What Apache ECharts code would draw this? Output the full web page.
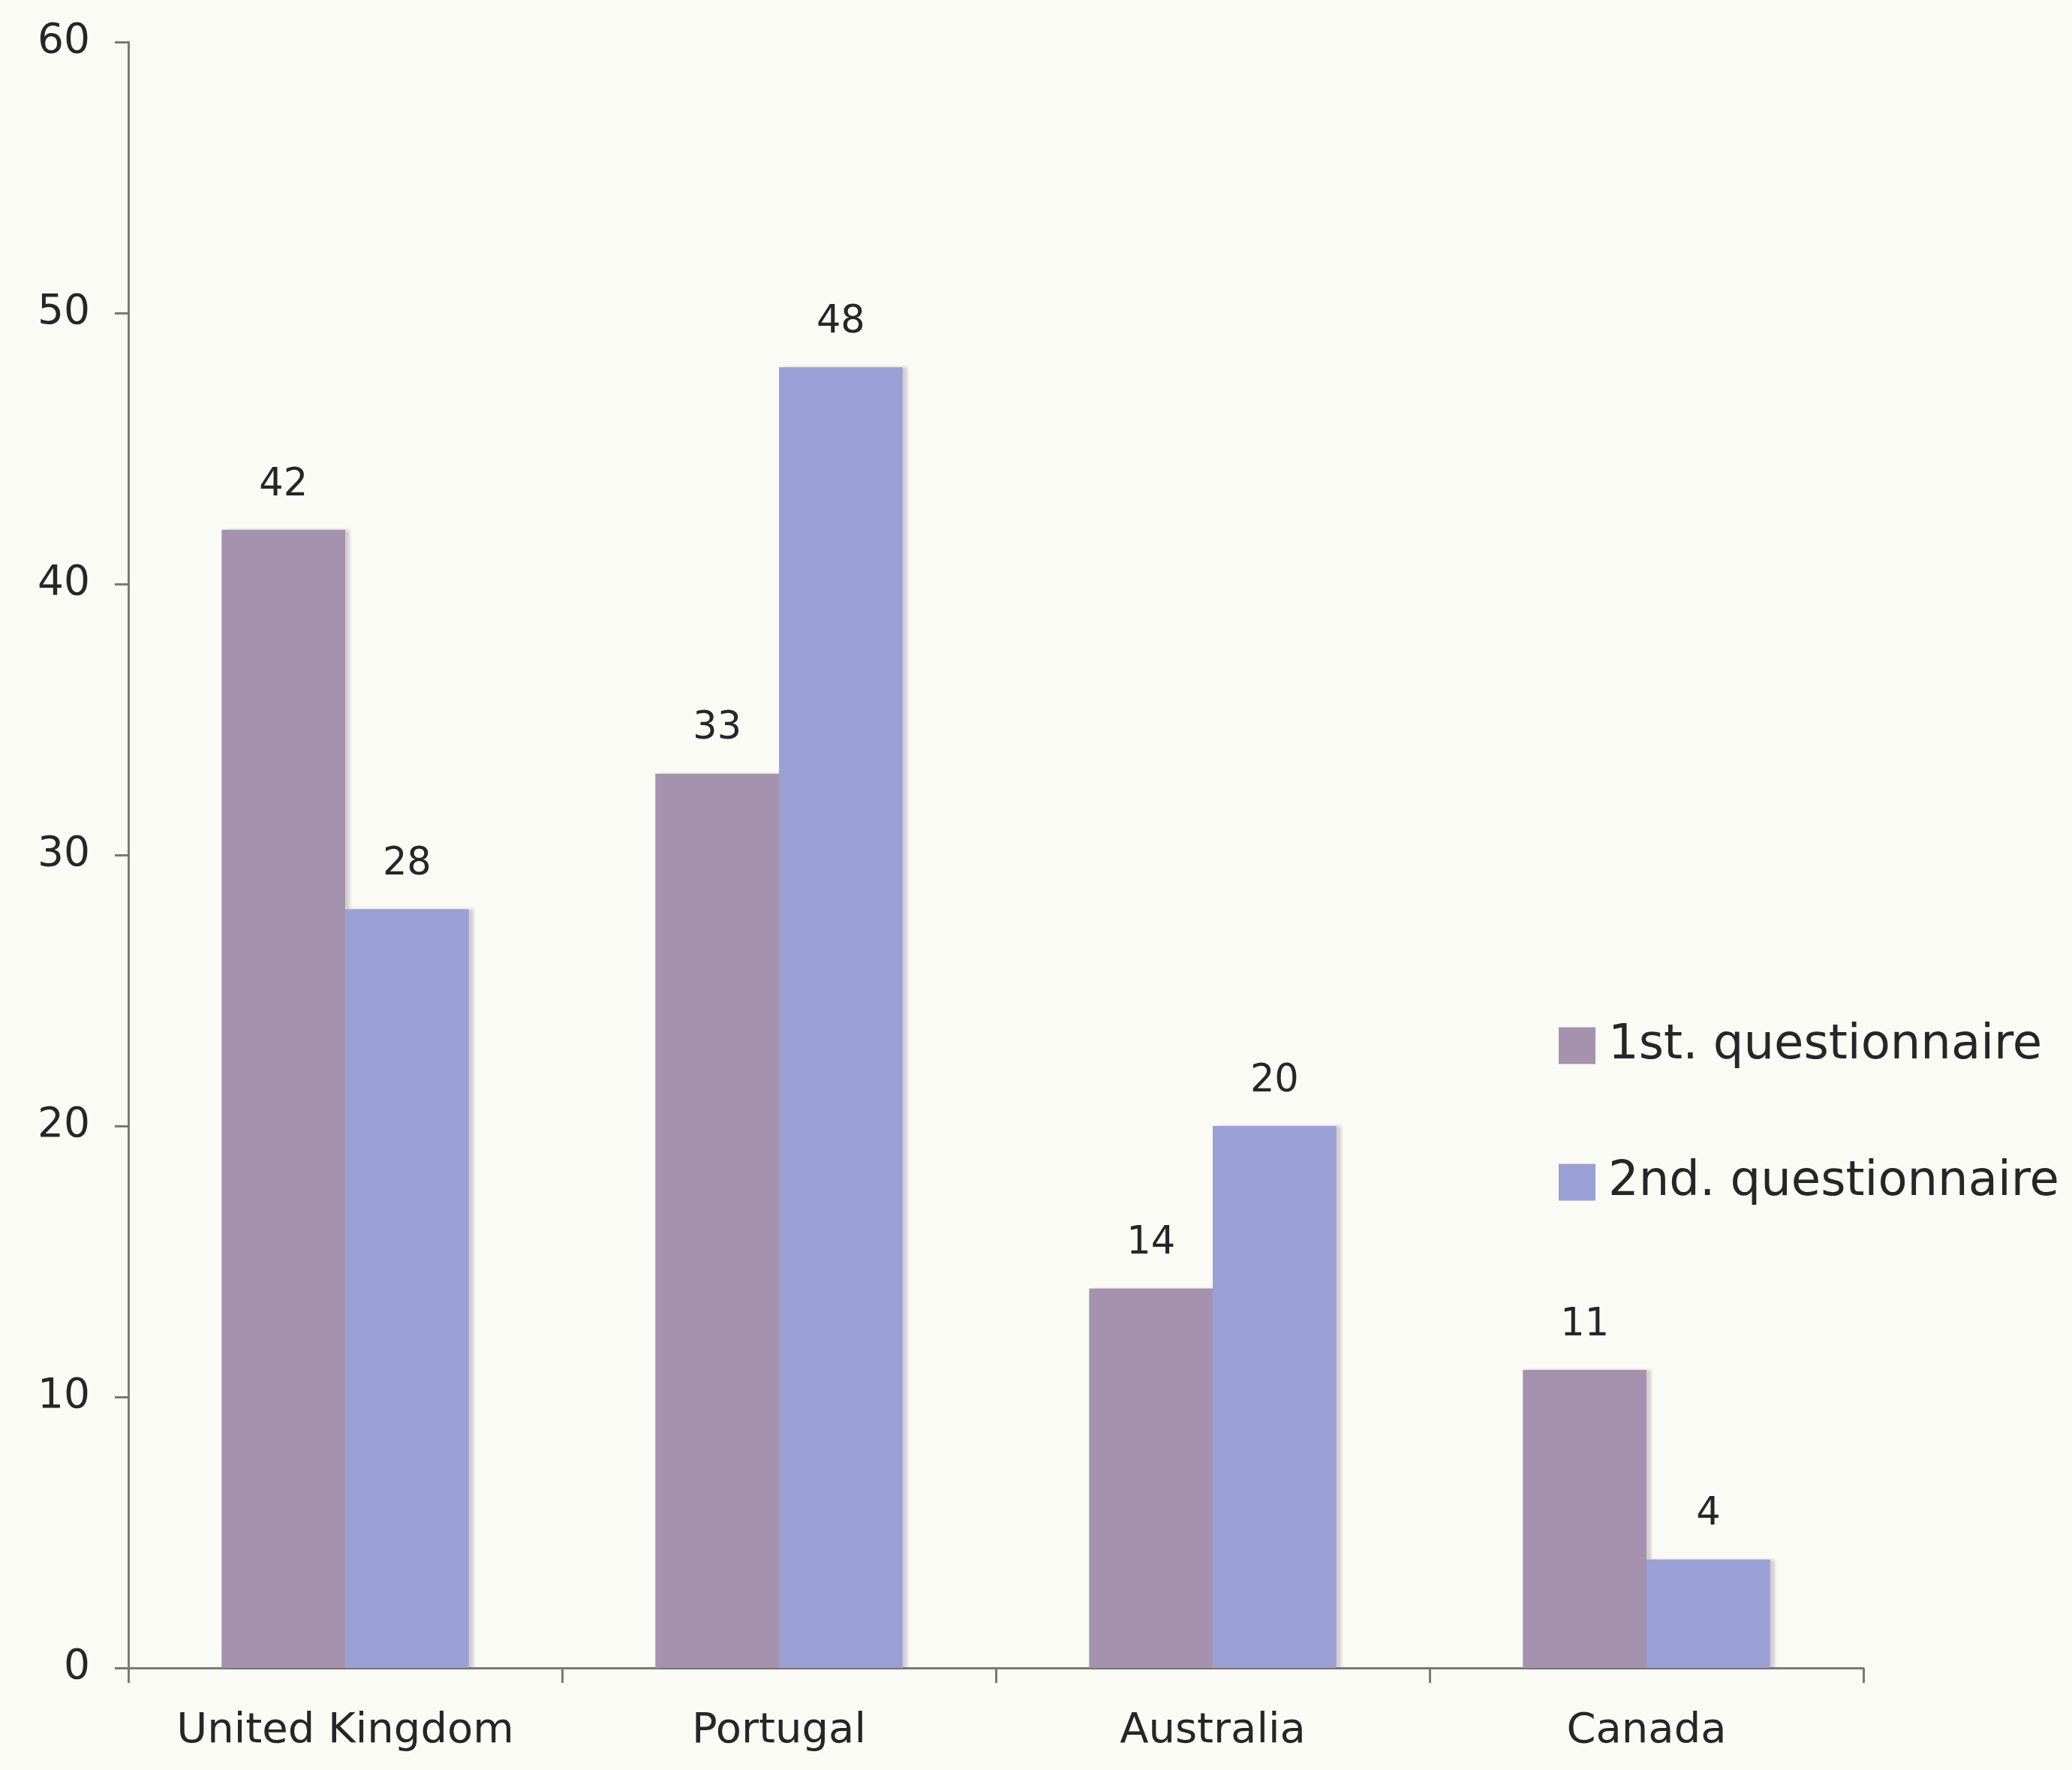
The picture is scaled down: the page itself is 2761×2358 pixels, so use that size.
<!DOCTYPE html>
<html>
<head>
<meta charset="utf-8">
<style>
  html, body { margin: 0; padding: 0; background: #fbfbf6; }
  #chart { width: 2761px; height: 2358px; }
</style>
<script src="https://cdn.jsdelivr.net/npm/echarts@6/dist/echarts.min.js"></script>
</head>
<body>
<div id="chart"></div>
<script>
// Survey responses per country, two rounds of questionnaires
const countries = ['United Kingdom', 'Portugal', 'Australia', 'Canada'];
const firstQuestionnaire = [42, 33, 14, 11];
const secondQuestionnaire = [28, 48, 20, 4];
const seriesNames = ['1st. questionnaire', '2nd. questionnaire'];

const FONT = '"DejaVu Sans", Verdana, sans-serif';
const TEXT = '#262626';
const AXIS = '#7a7a72';

const barShadow = {
  shadowColor: 'rgba(90, 70, 90, 0.25)',
  shadowOffsetX: 6,
  shadowOffsetY: 0,
  shadowBlur: 4
};

const labelStyle = {
  show: true,
  position: 'top',
  distance: 34,
  fontFamily: FONT,
  fontSize: 51,
  color: TEXT
};

const chart = echarts.init(document.getElementById('chart'));
chart.setOption({
  backgroundColor: '#fbfbf6',
  animation: false,
  grid: { left: 171, right: 278, top: 56, bottom: 136 },
  legend: {
    orient: 'vertical',
    left: 2072,
    top: 1356,
    itemWidth: 49,
    itemHeight: 49,
    itemGap: 118,
    icon: 'rect',
    textStyle: { fontFamily: FONT, fontSize: 64, color: TEXT, padding: [0, 0, 0, 12] },
    data: seriesNames
  },
  xAxis: {
    type: 'category',
    data: countries,
    axisLine: { show: true, lineStyle: { color: AXIS, width: 3 } },
    axisTick: { show: true, interval: 0, length: 20, lineStyle: { color: AXIS, width: 3 } },
    axisLabel: { interval: 0, fontFamily: FONT, fontSize: 56, color: TEXT, margin: 56 },
    splitLine: { show: false }
  },
  yAxis: {
    type: 'value',
    min: 0,
    max: 60,
    interval: 10,
    axisLine: { show: true, lineStyle: { color: AXIS, width: 3 } },
    axisTick: { show: true, length: 18, lineStyle: { color: AXIS, width: 3 } },
    axisLabel: { fontFamily: FONT, fontSize: 55, color: TEXT, margin: 51 },
    splitLine: { show: false }
  },
  series: [
    {
      name: seriesNames[0],
      type: 'bar',
      data: firstQuestionnaire,
      barGap: '0%',
      barCategoryGap: '43%',
      itemStyle: Object.assign({ color: '#a592ae' }, barShadow),
      label: labelStyle
    },
    {
      name: seriesNames[1],
      type: 'bar',
      data: secondQuestionnaire,
      barGap: '0%',
      barCategoryGap: '43%',
      itemStyle: Object.assign({ color: '#9a9fd6' }, barShadow),
      label: labelStyle
    }
  ]
});
</script>
</body>
</html>
